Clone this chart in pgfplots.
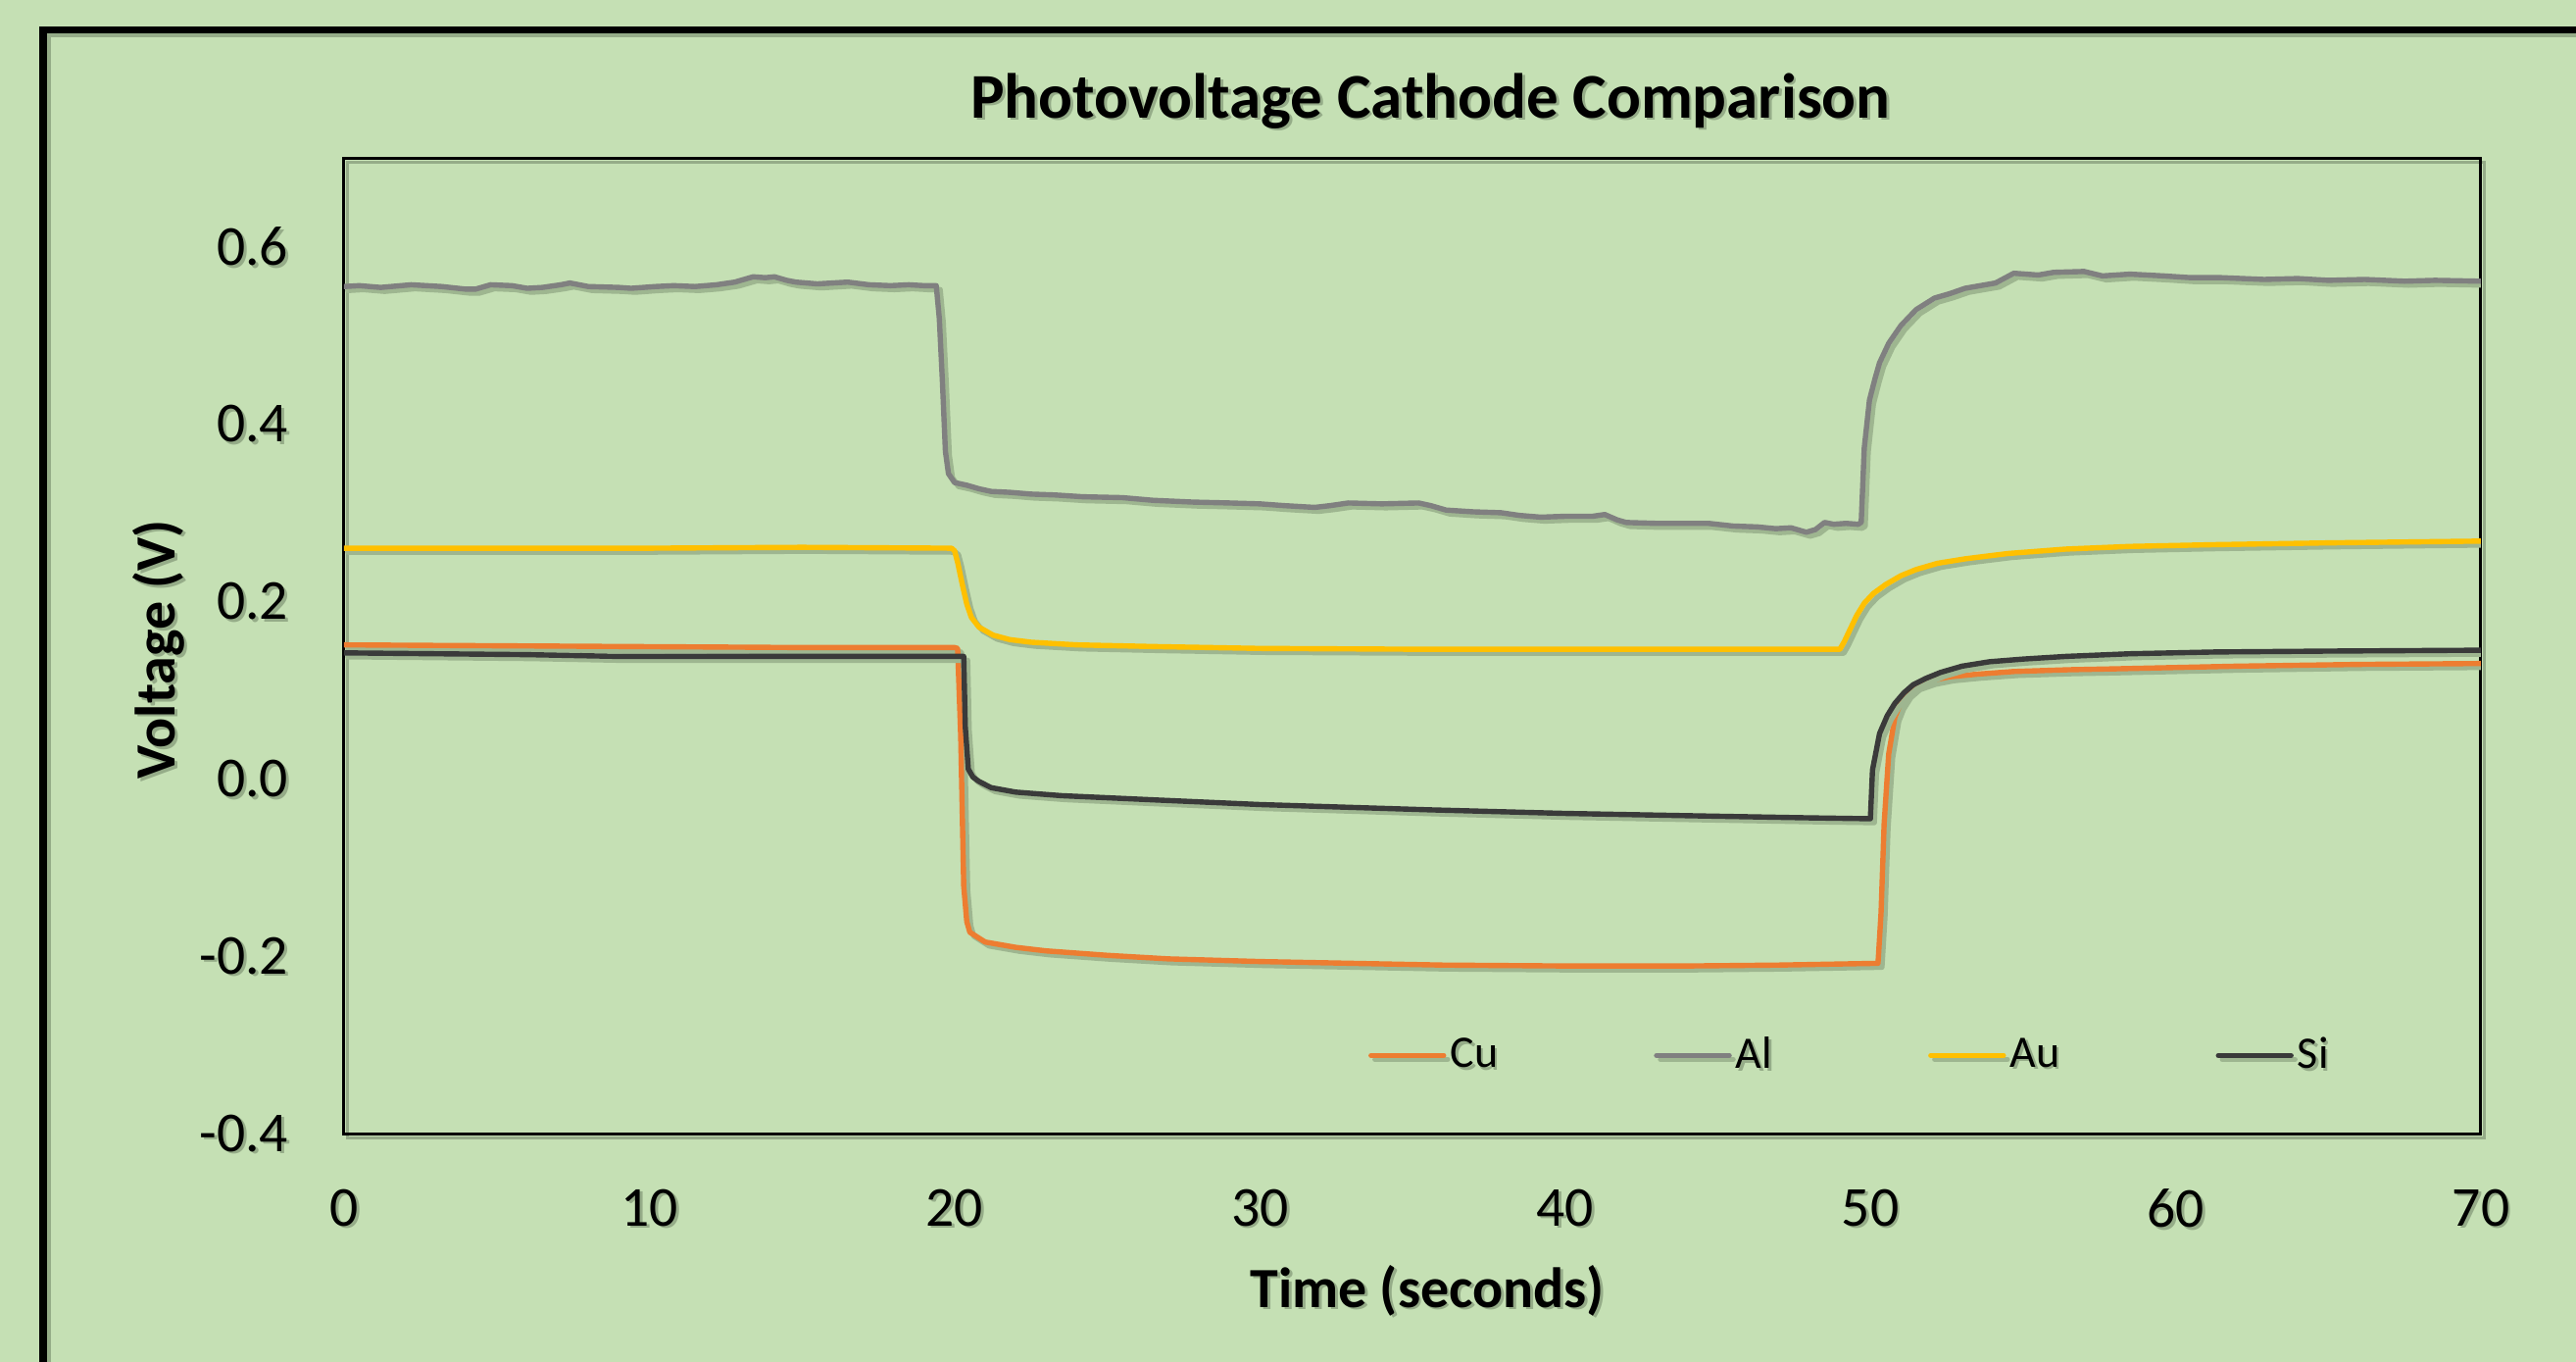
\documentclass[border=0pt]{standalone}
\usepackage{pgfplots}
\pgfplotsset{compat=1.18}
\usepackage{fontspec}
\setmainfont{Carlito}
\definecolor{bg}{HTML}{C5E0B4}
\definecolor{shd}{RGB}{110,130,100}
\definecolor{cCu}{HTML}{ED7D31}
\definecolor{cAl}{HTML}{808080}
\definecolor{cAu}{HTML}{FFC000}
\definecolor{cSi}{HTML}{3A3A3A}
\colorlet{shdtext}{shd!55!bg}
\colorlet{shdline}{shd!45!bg}
\newcommand{\sh}[1]{\makebox[0pt][l]{\hspace{0.7pt}\raisebox{-0.7pt}{\textcolor{shdtext}{#1}}}#1}
\newcommand{\shr}[1]{\makebox[0pt][l]{\hspace{-0.7pt}\raisebox{-0.7pt}{\textcolor{shdtext}{#1}}}#1}
\begin{document}
\begin{tikzpicture}
\useasboundingbox (-87.75pt,-58pt) rectangle (569.25pt,289.25pt);
\fill[bg] (-87.75pt,-58pt) rectangle (569.25pt,289.25pt);
% outer frame (shadow + frame)
\draw[shdtext, line width=1.9pt] (-75.75pt,-58pt) -- (-75.75pt,280.6pt) -- (569.25pt,280.6pt);
\draw[black, line width=1.9pt] (-76.75pt,-58pt) -- (-76.75pt,281.6pt) -- (569.25pt,281.6pt);
% plot frame shadow
\draw[shdtext, line width=0.75pt] (0.8pt,-0.8pt) rectangle (545.8pt,247.95pt);
\begin{axis}[
  at={(0pt,0pt)}, anchor=south west,
  scale only axis, width=545pt, height=248.75pt,
  xmin=0, xmax=70, ymin=-0.4, ymax=0.7,
  axis line style={line width=0.75pt, black},
  major tick length=0pt,
  xtick={0,10,20,30,40,50,60,70},
  xticklabels={{\sh{0}},{\sh{10}},{\sh{20}},{\sh{30}},{\sh{40}},{\sh{50}},{\sh{60}},{\sh{70}}},
  ytick={-0.4,-0.2,0,0.2,0.4,0.6},
  yticklabels={{\sh{-0.4}},{\sh{-0.2}},{\sh{0.0}},{\sh{0.2}},{\sh{0.4}},{\sh{0.6}}},
  ticklabel style={font=\fontsize{14.4}{17}\selectfont, inner sep=0pt},
  yticklabel style={anchor=east, xshift=-14pt},
  xticklabel style={anchor=north, yshift=-13.75pt},
  title={\sh{Photovoltage Cathode Comparison}},
  title style={font=\bfseries\fontsize{16.25}{19}\selectfont, at={(0.5085,1.018)}, anchor=base, inner sep=0pt},
  xlabel={\sh{Time (seconds)}},
  xlabel style={font=\bfseries\fontsize{14.5}{17}\selectfont, at={(0.507,-0.177)}, anchor=base, inner sep=0pt},
  ylabel={\shr{Voltage (V)}},
  ylabel style={font=\bfseries\fontsize{14.5}{17}\selectfont, at={(-0.0789,0.497)}, anchor=base, inner sep=0pt},
  every axis plot/.append style={line width=1.35pt, line join=round, line cap=round,
     preaction={draw=shdline, transform canvas={xshift=1pt,yshift=-1pt}}},
  legend columns=4,
  legend cell align=left,
  legend image code/.code={\draw[#1] (0pt,0pt) -- (18.5pt,0pt);},
  legend style={at={(0.4794,0.081)}, anchor=west, draw=none, fill=none,
     inner sep=0pt, outer sep=0pt, font=\fontsize{11.5}{13}\selectfont,
     column sep=0pt, nodes={inner sep=0pt, anchor=west},
     /tikz/every odd column/.append style={column sep=1pt},
     /tikz/every even column/.append style={column sep=39.8pt}},
]
% Cu
\addplot[cCu] coordinates {
(0,0.152) (5,0.151) (10,0.150) (15,0.149) (20.0,0.149) (20.1,0.148) (20.2,0.05) (20.3,-0.12) (20.4,-0.16) (20.5,-0.172) (21.0,-0.183) (22,-0.189) (23,-0.193) (25,-0.198) (27,-0.202) (30,-0.205) (33,-0.207) (36,-0.209) (40,-0.210) (44,-0.210) (47,-0.209) (50.25,-0.207) (50.35,-0.15) (50.45,-0.05) (50.6,0.029) (50.8,0.07) (50.96,0.084) (51.2,0.097) (51.5,0.106) (52.0,0.112) (52.6,0.116) (53.5,0.119) (54.7,0.122) (56.5,0.124) (58,0.125) (62,0.128) (66,0.130) (70,0.131)
};
\addlegendentry{\sh{Cu}}
% Al
\addplot[cAl] coordinates {
(0,0.556) (0.5,0.557) (1.2,0.555) (2.2,0.558) (3.2,0.556) (4.0,0.553) (4.3,0.553) (4.8,0.558) (5.5,0.557) (6.0,0.554) (6.5,0.555) (7.1,0.558) (7.4,0.560) (8.0,0.556) (9.0,0.555) (9.4,0.554) (10.2,0.556) (10.8,0.557) (11.5,0.556) (12.2,0.558) (12.8,0.561) (13.4,0.567) (13.8,0.566) (14.1,0.567) (14.5,0.563) (14.8,0.561) (15.5,0.559) (16.0,0.560) (16.5,0.561) (17.2,0.558) (17.9,0.557) (18.5,0.558) (19.0,0.557) (19.4,0.557) (19.5,0.52) (19.6,0.45) (19.7,0.37) (19.8,0.345) (20.0,0.335) (20.4,0.332) (20.8,0.328) (21.2,0.325) (21.8,0.324) (22.5,0.322) (23.3,0.321) (24.2,0.319) (25.5,0.318) (26.5,0.315) (27.8,0.313) (29.0,0.312) (30.0,0.311) (30.8,0.309) (31.8,0.307) (32.3,0.309) (32.9,0.312) (34.0,0.311) (35.2,0.312) (35.6,0.309) (36.1,0.304) (37.0,0.302) (37.9,0.301) (38.5,0.298) (39.2,0.296) (40.0,0.297) (40.9,0.297) (41.3,0.299) (41.7,0.293) (42.0,0.290) (43.0,0.289) (44.0,0.289) (44.7,0.289) (45.5,0.286) (46.3,0.285) (46.9,0.283) (47.4,0.284) (47.9,0.279) (48.2,0.282) (48.5,0.290) (48.8,0.288) (49.2,0.289) (49.6,0.288) (49.7,0.290) (49.8,0.374) (49.97,0.428) (50.15,0.452) (50.3,0.470) (50.6,0.492) (51.0,0.512) (51.5,0.530) (52.1,0.543) (52.6,0.548) (53.1,0.554) (54.1,0.560) (54.7,0.571) (55.5,0.569) (56.0,0.572) (57.0,0.573) (57.6,0.568) (58.5,0.570) (59.6,0.568) (60.5,0.566) (61.5,0.566) (62.9,0.564) (64.0,0.565) (65.0,0.563) (66.2,0.564) (67.5,0.562) (68.5,0.563) (70,0.562)
};
\addlegendentry{\sh{Al}}
% Au
\addplot[cAu] coordinates {
(0,0.261) (5,0.261) (10,0.261) (15,0.262) (19.9,0.261) (20.0,0.258) (20.1,0.245) (20.26,0.219) (20.4,0.198) (20.55,0.183) (20.8,0.172) (21.26,0.163) (21.8,0.158) (22.5,0.155) (24,0.152) (26.7,0.150) (30,0.148) (35.6,0.147) (40,0.147) (45,0.147) (49.0,0.147) (49.15,0.156) (49.3,0.167) (49.55,0.185) (49.8,0.199) (50.1,0.210) (50.5,0.220) (51.0,0.230) (51.5,0.237) (52.2,0.244) (53.1,0.249) (54.5,0.255) (56.4,0.260) (58.5,0.263) (61.3,0.265) (65,0.267) (70,0.269)
};
\addlegendentry{\sh{Au}}
% Si
\addplot[cSi] coordinates {
(0,0.143) (3,0.142) (6,0.141) (9,0.139) (12,0.139) (16,0.139) (20.3,0.139) (20.35,0.06) (20.45,0.012) (20.6,0.003) (20.8,-0.002) (21.2,-0.009) (22,-0.014) (23.5,-0.018) (26.7,-0.023) (30,-0.028) (35.6,-0.034) (40,-0.038) (44.7,-0.041) (48,-0.043) (50.0,-0.044) (50.07,0.011) (50.3,0.052) (50.55,0.072) (50.8,0.086) (51.1,0.098) (51.4,0.107) (51.8,0.114) (52.3,0.121) (53.0,0.128) (53.9,0.133) (55,0.136) (56.4,0.139) (58.5,0.142) (61.3,0.144) (65,0.145) (70,0.146)
};
\addlegendentry{\sh{Si}}
\end{axis}
\end{tikzpicture}
\end{document}
